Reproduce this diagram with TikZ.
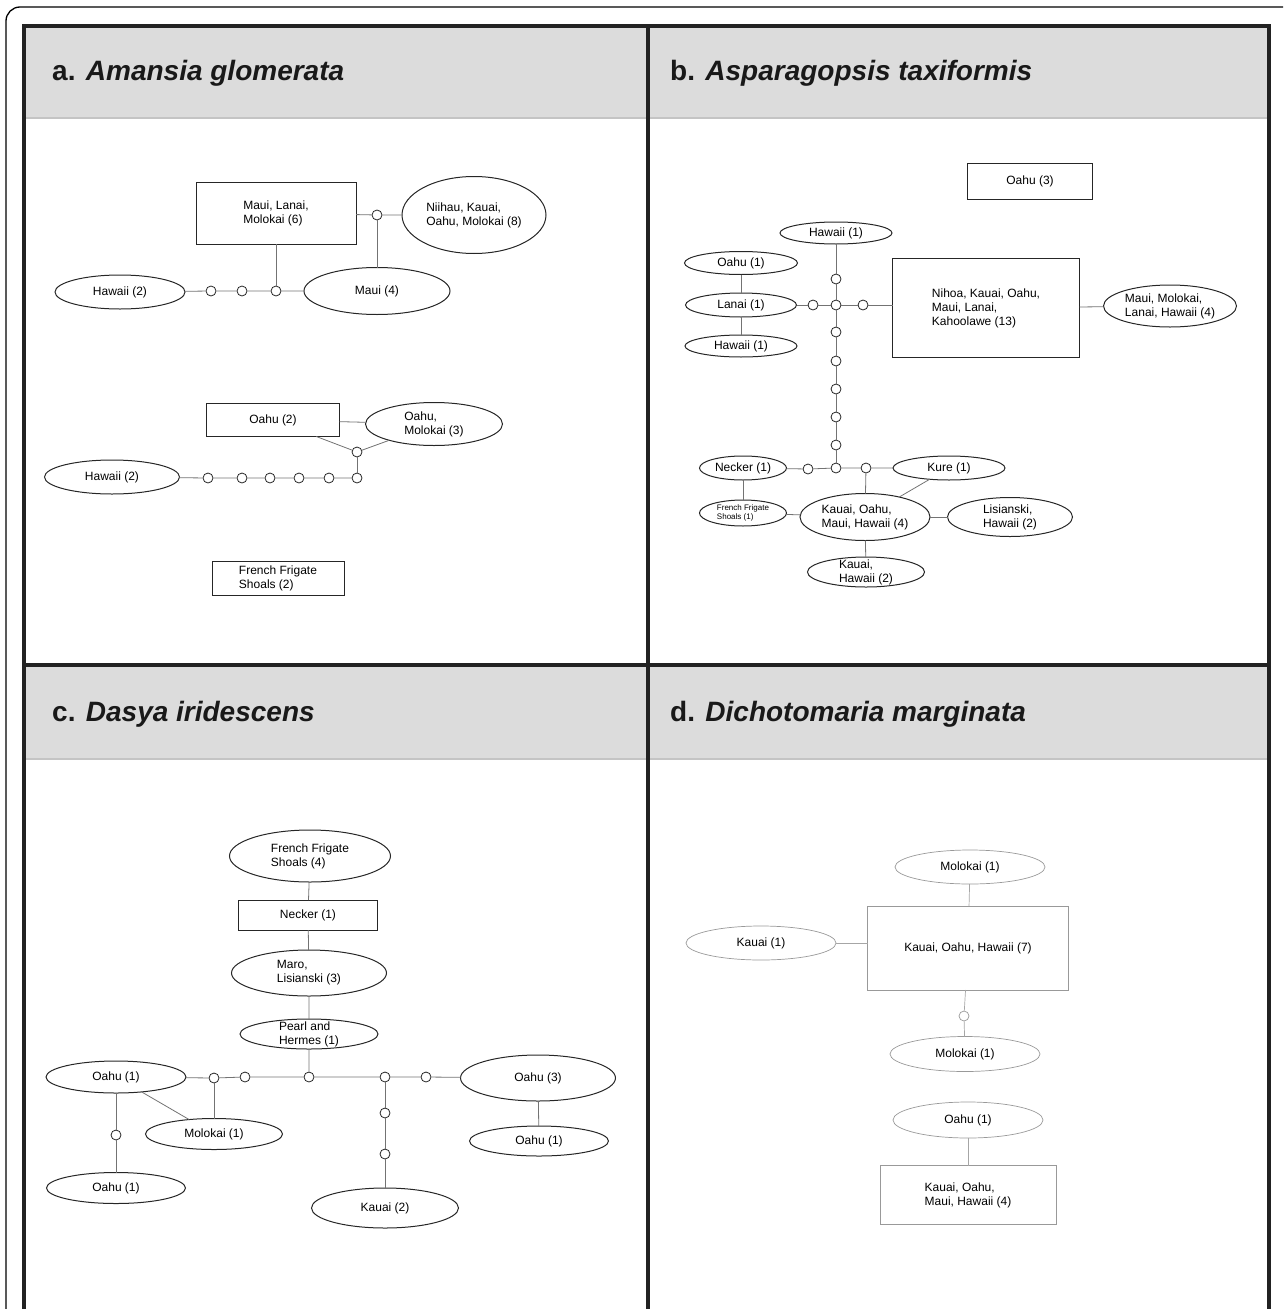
\documentclass[tikz,border=0pt]{standalone}
\usepackage{fontspec}
\setmainfont{Liberation Sans}
\usetikzlibrary{shapes.geometric}
\definecolor{hdr}{HTML}{DCDCDC}
\definecolor{hdrline}{HTML}{C4C4C4}
\definecolor{grid}{HTML}{222222}
\tikzset{
  hnode/.style={font=\fontsize{12}{14}\selectfont, align=left, inner sep=0pt, outer sep=0pt, draw=black!85, line width=1pt, text=black},
  hel/.style={hnode, ellipse},
  hbox/.style={hnode, rectangle},
  hcirc/.style={circle, draw=black!85, fill=white, line width=0.8pt, minimum size=10pt, inner sep=0pt},
  hline/.style={draw=black!55, line width=0.8pt},
  dnode/.style={draw=black!40, line width=0.7pt},
  dline/.style={draw=black!35, line width=0.7pt},
  ttl/.style={font=\fontsize{28}{32}\selectfont\bfseries, inner sep=0pt, anchor=base west, text=black!90},
}
\begin{document}
\begin{tikzpicture}[x=1pt,y=-1pt]
\useasboundingbox (0,0) rectangle (1287,1309);
% outer thin frame
\draw[line width=1.3pt, rounded corners=14pt] (6,1309) -- (6,7) -- (1283,7);
% headers
\fill[hdr] (24,26) rectangle (1269,118);
\fill[hdr] (24,665) rectangle (1269,759);
\draw[hdrline, line width=2pt] (26,118) -- (1267,118);
\draw[hdrline, line width=2pt] (26,759) -- (1267,759);
% thick grid
\draw[grid, line width=4pt] (24,1312) -- (24,26) -- (1269,26) -- (1269,1312);
\draw[grid, line width=4pt] (648,26) -- (648,1312);
\draw[grid, line width=4pt] (24,665) -- (1269,665);
% titles
\node[ttl] (ta) at (52,80) {a. \textit{Amansia glomerata}};
\node[ttl] (tb) at (670,80) {b. \textit{Asparagopsis taxiformis}};
\node[ttl] (tc) at (52,721) {c. \textit{Dasya iridescens}};
\node[ttl] (td) at (670,721) {d. \textit{Dichotomaria marginata}};

% ---------- panel a ----------
\node[hbox, minimum width=160pt, minimum height=62pt] (a_mlm) at (276,213) {Maui, Lanai,\\Molokai (6)};
\node[hel, minimum width=144pt, minimum height=77pt] (a_nkom) at (474,215) {Niihau, Kauai,\\Oahu, Molokai (8)};
\node[hcirc] (a_c0) at (377,215) {};
\node[hel, minimum width=130pt, minimum height=34pt] (a_h2) at (120,292) {Hawaii (2)};
\node[hcirc] (a_c1) at (211,291) {};
\node[hcirc] (a_c2) at (242,291) {};
\node[hcirc] (a_c3) at (276,291) {};
\node[hel, minimum width=146pt, minimum height=47pt] (a_m4) at (377,291) {Maui (4)};
\draw[hline] (a_mlm) -- (a_c0) -- (a_nkom);
\draw[hline] (a_c0) -- (a_m4);
\draw[hline] (a_mlm) -- (a_c3);
\draw[hline] (a_h2) -- (a_c1) -- (a_c2) -- (a_c3) -- (a_m4);

\node[hbox, minimum width=133pt, minimum height=33pt] (a_o2) at (273,420) {Oahu (2)};
\node[hel, minimum width=137pt, minimum height=43pt] (a_om3) at (434,424) {Oahu,\\Molokai (3)};
\node[hcirc] (a_d0) at (357,452) {};
\node[hel, minimum width=135pt, minimum height=34pt] (a_h2b) at (112,477) {Hawaii (2)};
\node[hcirc] (a_d1) at (208,478) {};
\node[hcirc] (a_d2) at (242,478) {};
\node[hcirc] (a_d3) at (270,478) {};
\node[hcirc] (a_d4) at (299,478) {};
\node[hcirc] (a_d5) at (329,478) {};
\node[hcirc] (a_d6) at (357,478) {};
\draw[hline] (a_o2) -- (a_om3);
\draw[hline] (a_o2) -- (a_d0);
\draw[hline] (a_om3) -- (a_d0);
\draw[hline] (a_d0) -- (a_d6);
\draw[hline] (a_h2b) -- (a_d1) -- (a_d2) -- (a_d3) -- (a_d4) -- (a_d5) -- (a_d6);
\node[hbox, minimum width=132pt, minimum height=34pt] (a_ffs) at (278,578) {French Frigate\\Shoals (2)};

% ---------- panel b ----------
\node[hbox, minimum width=125pt, minimum height=36pt] (b_o3) at (1030,181) {Oahu (3)};
\node[hel, minimum width=112pt, minimum height=22pt] (b_h1t) at (836,233) {Hawaii (1)};
\node[hel, minimum width=113pt, minimum height=23pt] (b_o1) at (741,263) {Oahu (1)};
\node[hel, minimum width=111pt, minimum height=24pt] (b_l1) at (741,305) {Lanai (1)};
\node[hel, minimum width=112pt, minimum height=22pt] (b_h1l) at (741,346) {Hawaii (1)};
\node[hcirc] (b_v1) at (836,279) {};
\node[hcirc] (b_j) at (836,305) {};
\node[hcirc] (b_v2) at (836,332) {};
\node[hcirc] (b_v3) at (836,361) {};
\node[hcirc] (b_v4) at (836,389) {};
\node[hcirc] (b_v5) at (836,417) {};
\node[hcirc] (b_v6) at (836,445) {};
\node[hcirc] (b_k) at (836,468) {};
\node[hcirc] (b_hl) at (813,305) {};
\node[hcirc] (b_hr) at (863,305) {};
\node[hbox, minimum width=187pt, minimum height=99pt] (b_big) at (986,308) {Nihoa, Kauai, Oahu,\\Maui, Lanai,\\Kahoolawe (13)};
\node[hel, minimum width=133pt, minimum height=42pt] (b_mmlh) at (1170,306) {Maui, Molokai,\\Lanai, Hawaii (4)};
\draw[hline] (b_o1) -- (b_l1) -- (b_h1l);
\draw[hline] (b_l1) -- (b_hl) -- (b_j) -- (b_hr) -- (b_hr -| b_big.west);
\draw[hline] (b_big) -- (b_mmlh);
\draw[hline] (b_h1t) -- (b_v1) -- (b_j) -- (b_v2) -- (b_v3) -- (b_v4) -- (b_v5) -- (b_v6) -- (b_k);

\node[hel, minimum width=87pt, minimum height=24pt] (b_nk) at (743,468) {Necker (1)};
\node[hcirc] (b_nl) at (808,469) {};
\node[hcirc] (b_nr) at (866,468) {};
\node[hel, minimum width=112pt, minimum height=24pt] (b_ku) at (949,468) {Kure (1)};
\node[hel, minimum width=87pt, minimum height=26pt, font=\fontsize{8}{9.5}\selectfont] (b_ffs) at (743,513) {French Frigate\\Shoals (1)};
\node[hel, minimum width=130pt, minimum height=47pt] (b_komh) at (865,517) {Kauai, Oahu,\\Maui, Hawaii (4)};
\node[hel, minimum width=125pt, minimum height=39pt] (b_lh) at (1010,517) {Lisianski,\\Hawaii (2)};
\node[hel, minimum width=117pt, minimum height=30pt, inner ysep=-2.5pt] (b_kh) at (866,572) {Kauai,\\Hawaii (2)};
\draw[hline] (b_nk) -- (b_nl) -- (b_k) -- (b_nr) -- (b_ku);
\draw[hline] (b_nk) -- (b_ffs);
\draw[hline] (b_ffs) -- (b_komh);
\draw[hline] (b_nr) -- (b_komh);
\draw[hline] (b_ku) -- (b_komh);
\draw[hline] (b_komh) -- (b_lh);
\draw[hline] (b_komh) -- (b_kh);

% ---------- panel c ----------
\node[hel, minimum width=161pt, minimum height=52pt] (c_ffs) at (310,856) {French Frigate\\Shoals (4)};
\node[hbox, minimum width=139pt, minimum height=30pt] (c_nk) at (308,915) {Necker (1)};
\node[hel, minimum width=155pt, minimum height=46pt] (c_ml) at (309,973) {Maro,\\Lisianski (3)};
\node[hel, minimum width=138pt, minimum height=30pt, inner ysep=-2.5pt] (c_ph) at (309,1034) {Pearl and\\Hermes (1)};
\node[hcirc] (c_j) at (309,1077) {};
\node[hcirc] (c_l2) at (245,1077) {};
\node[hcirc] (c_l1) at (214,1078) {};
\node[hcirc] (c_r1) at (385,1077) {};
\node[hcirc] (c_r2) at (426,1077) {};
\node[hel, minimum width=140pt, minimum height=32pt] (c_o1) at (116,1077) {Oahu (1)};
\node[hel, minimum width=155pt, minimum height=46pt] (c_o3) at (538,1078) {Oahu (3)};
\node[hel, minimum width=139pt, minimum height=30pt] (c_o1r) at (539,1141) {Oahu (1)};
\node[hel, minimum width=137pt, minimum height=31pt] (c_mo) at (214,1134) {Molokai (1)};
\node[hcirc] (c_vc) at (116,1135) {};
\node[hel, minimum width=139pt, minimum height=31pt] (c_o1b) at (116,1188) {Oahu (1)};
\node[hcirc] (c_k1) at (385,1113) {};
\node[hcirc] (c_k2) at (385,1154) {};
\node[hel, minimum width=147pt, minimum height=40pt] (c_ka2) at (385,1208) {Kauai (2)};
\draw[hline] (c_ffs) -- (c_nk) -- (c_ml) -- (c_ph) -- (c_j);
\draw[hline] (c_o1) -- (c_l1) -- (c_l2) -- (c_j) -- (c_r1) -- (c_r2) -- (c_o3);
\draw[hline] (c_o3) -- (c_o1r);
\draw[hline] (c_l1) -- (c_mo);
\draw[hline] (c_o1) -- (c_mo);
\draw[hline] (c_o1) -- (c_vc) -- (c_o1b);
\draw[hline] (c_r1) -- (c_k1) -- (c_k2) -- (c_ka2);

% ---------- panel d ----------
\node[hel, dnode, minimum width=150pt, minimum height=34pt] (d_m1) at (970,867) {Molokai (1)};
\node[hbox, dnode, minimum width=201pt, minimum height=84pt] (d_big) at (968,948) {Kauai, Oahu, Hawaii (7)};
\node[hel, dnode, minimum width=150pt, minimum height=34pt] (d_k1) at (761,943) {Kauai (1)};
\node[hcirc, dnode] (d_c) at (964,1016) {};
\node[hel, dnode, minimum width=150pt, minimum height=35pt] (d_m2) at (965,1054) {Molokai (1)};
\node[hel, dnode, minimum width=150pt, minimum height=36pt] (d_o1) at (968,1120) {Oahu (1)};
\node[hbox, dnode, minimum width=176pt, minimum height=59pt] (d_box) at (968,1195) {Kauai, Oahu,\\Maui, Hawaii (4)};
\draw[dline] (d_m1) -- (d_big);
\draw[dline] (d_k1) -- (d_k1 -| d_big.west);
\draw[dline] (d_big) -- (d_c) -- (d_m2);
\draw[dline] (d_o1) -- (d_box);
\end{tikzpicture}
\end{document}
